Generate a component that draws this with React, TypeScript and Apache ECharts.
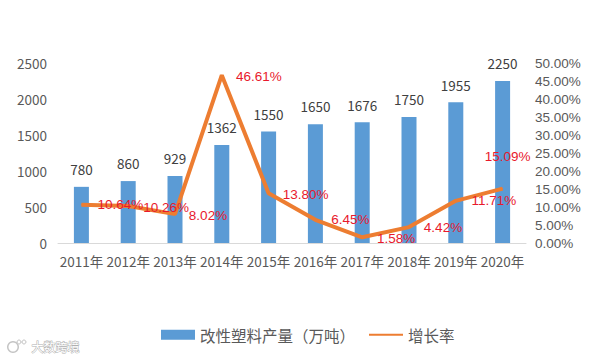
import React, { useEffect, useRef } from "react";
import * as echarts from "echarts";

const years = ["2011年", "2012年", "2013年", "2014年", "2015年", "2016年", "2017年", "2018年", "2019年", "2020年"];
const output = [780, 860, 929, 1362, 1550, 1650, 1676, 1750, 1955, 2250];
const growth = [10.64, 10.26, 8.02, 46.61, 13.8, 6.45, 1.58, 4.42, 11.71, 15.09];

const FONT = '"Noto Sans CJK SC", "Noto Sans", sans-serif';
const LATIN = '"Liberation Sans", sans-serif';
const labelShift: [number, number][] = [
  [39, 0], [38, 1], [33, 1], [37, 1], [37, 1],
  [35, 0], [34, 1], [34, 0], [38, 0], [5, -32],
];

export default function App() {
  const ref = useRef<HTMLDivElement>(null);
  useEffect(() => {
    const chart = echarts.init(ref.current!, null, { renderer: "svg" });
    chart.setOption({
      animation: false,
      backgroundColor: "#fff",
      textStyle: { fontFamily: FONT },
      grid: { left: 58, right: 74, top: 63, bottom: 117 },
      legend: {
        left: 161, top: 327, padding: 0, itemGap: 13, itemWidth: 34, itemHeight: 10,
        textStyle: { fontFamily: FONT, fontSize: 15.5, color: "#595959" },
        data: [
          { name: "改性塑料产量（万吨）", icon: "rect" },
          { name: "增长率", itemStyle: { opacity: 0 } },
        ],
      },
      xAxis: {
        type: "category", data: years,
        axisTick: { show: false },
        axisLine: { lineStyle: { color: "#d9d9d9" } },
        axisLabel: { color: "#595959", fontSize: 13.5, margin: 11, interval: 0, fontFamily: FONT },
      },
      yAxis: [
        {
          type: "value", min: 0, max: 2500, interval: 500,
          splitLine: { show: false }, axisLine: { show: false }, axisTick: { show: false },
          axisLabel: {
            color: "#595959", fontSize: 13.5, margin: 11, fontFamily: FONT,
            formatter: (v: number) => String(v),
          },
        },
        {
          type: "value", min: 0, max: 50, interval: 5, position: "right",
          splitLine: { show: false }, axisLine: { show: false }, axisTick: { show: false },
          axisLabel: {
            color: "#595959", fontSize: 13.5, margin: 9, fontFamily: LATIN,
            formatter: (v: number) => v.toFixed(2) + "%",
          },
        },
      ],
      series: [
        {
          name: "改性塑料产量（万吨）", type: "bar", data: output, barWidth: 15,
          itemStyle: { color: "#5B9BD5" },
          label: { show: true, position: "top", distance: 11, color: "#404040", fontSize: 13.5, fontFamily: FONT },
        },
        {
          name: "增长率", type: "line", yAxisIndex: 1, data: growth,
          symbol: "circle", symbolSize: 1,
          lineStyle: { color: "#ED7D31", width: 4 },
          itemStyle: { color: "#ED7D31" },
          label: {
            show: true, position: "inside", color: "#E8192C", fontSize: 13.5, fontFamily: LATIN,
            formatter: (p: any) => p.value.toFixed(2) + "%",
          },
          labelLayout: (p: any) => ({ dx: labelShift[p.dataIndex][0], dy: labelShift[p.dataIndex][1] }),
          labelLine: { show: false },
        },
      ],
      graphic: [
        { type: "line", silent: true, shape: { x1: 503, y1: 188, x2: 508, y2: 168 }, style: { stroke: "#bfbfbf", lineWidth: 1 } },
        {
          type: "text", left: 31, top: 340,
          style: { text: "大数跨境", fontSize: 12, fontFamily: FONT, fill: "#fff", stroke: "#b0b0b0", lineWidth: 1 },
        },
        { type: "ring", shape: { cx: 13, cy: 347, r: 6, r0: 4.5 }, style: { fill: "#c4c4c4" } },
        { type: "circle", shape: { cx: 19, cy: 342, r: 2 }, style: { fill: "#fff", stroke: "#c4c4c4" } },
        { type: "circle", shape: { cx: 24, cy: 342, r: 2 }, style: { fill: "#fff", stroke: "#c4c4c4" } },
      ],
    });
    return () => chart.dispose();
  }, []);
  return <div ref={ref} style={{ width: 600, height: 360, position: "absolute", left: 0, top: 0 }} />;
}
